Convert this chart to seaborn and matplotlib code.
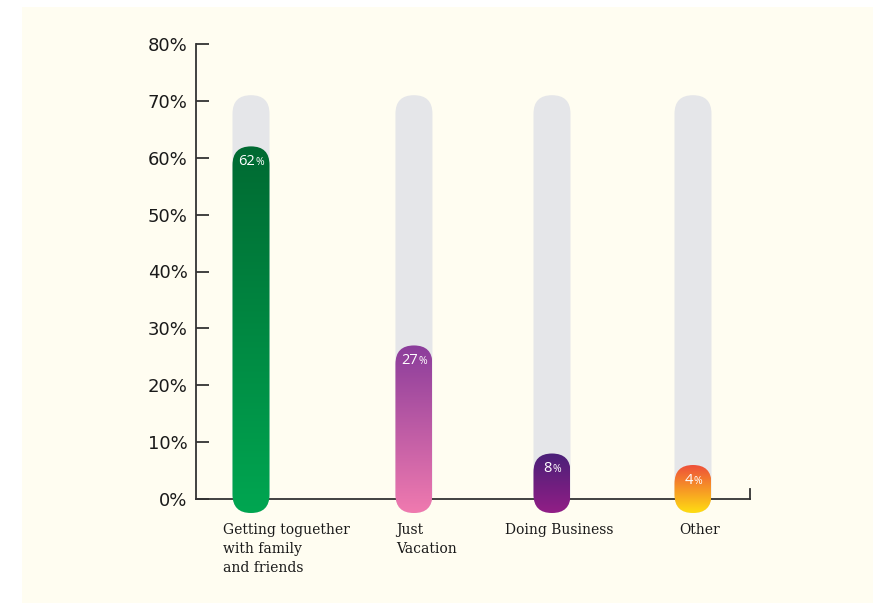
import numpy as np
import pandas as pd
import seaborn as sns
import matplotlib.pyplot as plt
from matplotlib.patches import FancyBboxPatch, Rectangle
from matplotlib.transforms import IdentityTransform
from matplotlib.colors import LinearSegmentedColormap

# ---- data -------------------------------------------------------------
categories = [
    "Getting toguether\nwith family\nand friends",
    "Just\nVacation",
    "Doing Business",
    "Other",
]
shares = [62, 27, 8, 4]
y_ticks = [0, 10, 20, 30, 40, 50, 60, 70, 80]
y_tick_labels = [f"{v}%" for v in y_ticks]

# ---- layout / style ---------------------------------------------------
bar_pos = [0.0, 1.106, 2.043, 3.0]          # horizontal placement of the pills
label_shift_px = [-28, -18, -47, -14]        # left edge of each caption vs. pill centre
track_top = 71                               # height of the grey track behind each pill
top_colors = ["#006A32", "#8B3D9B", "#4A2078", "#EE4F3A"]
bottom_colors = ["#00A651", "#F07AAF", "#921E86", "#FFDE12"]
track_color = "#E5E6E9"
cream = "#FFFDF1"
axis_color = "#333333"

PILL_W = 37          # px
OVERHANG = 14        # px below the baseline
MIN_LEN = 48         # px, shortest pill

DPI = 100
sns.set_style("white")
plt.rcParams["font.family"] = ["DejaVu Sans"]

fig = plt.figure(figsize=(8.73, 6.03), dpi=DPI, facecolor="white")
fig.patches.append(Rectangle((22 / 873, 0), 1 - 22 / 873, (603 - 7) / 603,
                             transform=fig.transFigure, facecolor=cream,
                             edgecolor="none", zorder=-10))

ax = fig.add_axes([196 / 873, (603 - 499) / 603, (750 - 196) / 873, (499 - 44) / 603])
ax.set_facecolor("none")

df = pd.DataFrame({"pos": bar_pos, "share": shares, "category": categories})
df["track"] = track_top

sns.barplot(data=df, x="pos", y="track", native_scale=True, ax=ax,
            color=track_color, width=0.3)
sns.barplot(data=df, x="pos", y="share", native_scale=True, ax=ax,
            color="k", width=0.3)

xlim = ((196 - 251) / 147.33, (750 - 251) / 147.33)
ax.set_xlim(*xlim)
ax.set_ylim(0, 80)

n = len(df)
track_patches = ax.patches[:n]
value_patches = ax.patches[n:2 * n]


def pill_for(p):
    xc = p.get_x() + p.get_width() / 2
    h = p.get_height()
    xd, ytop = ax.transData.transform((xc, h))
    _, ybase = ax.transData.transform((xc, 0))
    ybot = ybase - OVERHANG
    ytop = max(ytop, ybot + MIN_LEN)
    return xd, ybot, ytop


# grey tracks
for p in track_patches:
    p.set_visible(False)
    xd, yb, yt = pill_for(p)
    pill = FancyBboxPatch((xd - PILL_W / 2, yb), PILL_W, yt - yb,
                          boxstyle=f"round,pad=0,rounding_size={PILL_W / 2}",
                          transform=IdentityTransform(), facecolor=track_color,
                          edgecolor="none", zorder=1, clip_on=False)
    ax.add_artist(pill)

# coloured gradient pills with value labels
inv = ax.transData.inverted()
grad = np.linspace(1, 0, 256).reshape(-1, 1)
for i, p in enumerate(value_patches):
    p.set_visible(False)
    xd, yb, yt = pill_for(p)
    pill = FancyBboxPatch((xd - PILL_W / 2, yb), PILL_W, yt - yb,
                          boxstyle=f"round,pad=0,rounding_size={PILL_W / 2}",
                          transform=IdentityTransform(), facecolor="none",
                          edgecolor="none", zorder=2, clip_on=False)
    ax.add_artist(pill)
    cmap = LinearSegmentedColormap.from_list(f"g{i}", [bottom_colors[i], top_colors[i]])
    (x0, y0) = inv.transform((xd - PILL_W / 2, yb))
    (x1, y1) = inv.transform((xd + PILL_W / 2, yt))
    im = ax.imshow(grad, extent=(x0, x1, y0, y1), cmap=cmap, vmin=0, vmax=1,
                   aspect="auto", origin="upper", zorder=2, interpolation="bicubic")
    im.set_clip_path(pill)
    im.set_clip_box(fig.bbox)

    # value label: number plus a smaller percent sign, centred on the pill
    base = yt - 19
    num = ax.text(0, base, f"{shares[i]}", transform=IdentityTransform(),
                  color="white", fontsize=10.5, family="Open Sans",
                  ha="left", va="baseline", zorder=4)
    pct = ax.text(0, base, "%", transform=IdentityTransform(),
                  color="white", fontsize=7.5, family="Open Sans",
                  ha="left", va="baseline", zorder=4)
    fig.canvas.draw()
    r = fig.canvas.get_renderer()
    wn = num.get_window_extent(r).width
    wp = pct.get_window_extent(r).width
    left = xd - (wn + wp) / 2
    num.set_x(left)
    pct.set_x(left + wn + 0.5)

ax.set_xlim(*xlim)
ax.set_ylim(0, 80)

# axes styling
for s in ("top", "right"):
    ax.spines[s].set_visible(False)
for s in ("left", "bottom"):
    ax.spines[s].set_color(axis_color)
    ax.spines[s].set_linewidth(1.3)
    ax.spines[s].set_zorder(1.5)

ax.set_yticks(y_ticks)
ax.set_yticklabels(y_tick_labels)
ax.tick_params(axis="y", direction="in", length=9.5, width=1.3, color=axis_color,
               pad=6, labelsize=13, labelcolor="#1a1a1a", left=True)
ax.set_xticks([])
ax.set_xlabel("")
ax.set_ylabel("")

# short upward tick closing the baseline on the right
ax.plot([1, 1], [0, 10 / 455], transform=ax.transAxes, color=axis_color,
        lw=1.3, clip_on=False, zorder=3, solid_capstyle="projecting")

# category captions
for i, cat in enumerate(categories):
    ax.annotate(cat, xy=(bar_pos[i], 0), xycoords="data",
                xytext=(label_shift_px[i] * 72 / DPI, -17), textcoords="offset points",
                ha="left", va="top", fontsize=10, family="DejaVu Serif",
                linespacing=1.45, color="#1a1a1a", annotation_clip=False)

fig.savefig("out.png", dpi=DPI, facecolor="white")
